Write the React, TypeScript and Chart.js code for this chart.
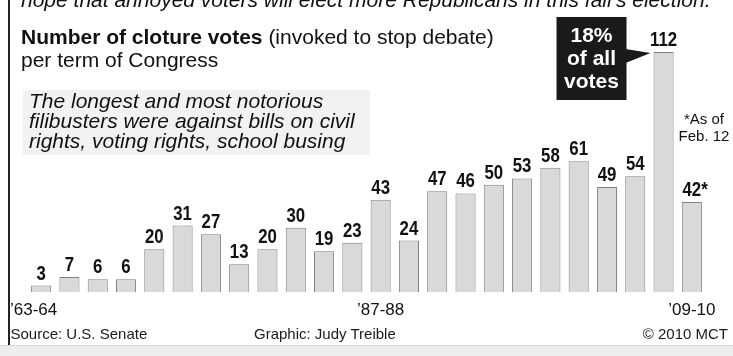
import React, { useEffect, useRef } from "react";
import { Chart, registerables } from "chart.js";

Chart.register(...registerables);

// ---- data ----
const categories = [
  "’63-64", "’65-66", "’67-68", "’69-70", "’71-72", "’73-74", "’75-76", "’77-78",
  "’79-80", "’81-82", "’83-84", "’85-86", "’87-88", "’89-90", "’91-92", "’93-94",
  "’95-96", "’97-98", "’99-00", "’01-02", "’03-04", "’05-06", "’07-08", "’09-10",
];
const clotureVotes = [3, 7, 6, 6, 20, 31, 27, 13, 20, 30, 19, 23, 43, 24, 47, 46, 50, 53, 58, 61, 49, 54, 112, 42];
const shownTicks = ["’63-64", "’87-88", "’09-10"];
const partialTerm = "’09-10";
const calloutTerm = "’07-08";
const calloutLines = ["18%", "of all", "votes"];

const headline = "hope that annoyed voters will elect more Republicans in this fall’s election.";
const titleBold = "Number of cloture votes";
const titleRest = " (invoked to stop debate)";
const subtitle = "per term of Congress";
const noteLines = ["The longest and most notorious", "filibusters were against bills on civil", "rights, voting rights, school busing"];
const asOfLines = ["*As of", "Feb. 12"];
const sourceText = "Source: U.S. Senate";
const creditText = "Graphic: Judy Treible";
const copyrightText = "© 2010 MCT";

const W = 733;
const H = 356;
const FRAME_X = 8;
const SANS = '"Liberation Sans", Arial, Helvetica, sans-serif';
const LABEL_SQUEEZE = 0.8;

const labelsPlugin = {
  id: "clotureLabels",
  afterDatasetsDraw(chart: any) {
    const ctx = chart.ctx as CanvasRenderingContext2D;
    const meta = chart.getDatasetMeta(0);
    const xScale = chart.scales.x;
    const area = chart.chartArea;
    ctx.save();
    ctx.textBaseline = "alphabetic";
    ctx.fillStyle = "#111";

    // value labels (condensed bold)
    ctx.save();
    ctx.scale(LABEL_SQUEEZE, 1);
    ctx.font = `bold 21px ${SANS}`;
    meta.data.forEach((bar: any, i: number) => {
      const txt = String(clotureVotes[i]);
      const sx = bar.x / LABEL_SQUEEZE;
      ctx.textAlign = "center";
      ctx.fillText(txt, sx, bar.y - 6);
      if (categories[i] === partialTerm) {
        const w = ctx.measureText(txt).width;
        ctx.textAlign = "left";
        ctx.fillText("*", sx + w / 2, bar.y - 6);
      }
    });
    ctx.restore();

    // category ticks
    ctx.font = `17px ${SANS}`;
    shownTicks.forEach((t, k) => {
      const i = categories.indexOf(t);
      const x = xScale.getPixelForValue(i);
      if (k === 0) {
        ctx.textAlign = "left";
        ctx.fillText(t, FRAME_X + 2, area.bottom + 23);
      } else {
        ctx.textAlign = "center";
        ctx.fillText(t, x, area.bottom + 23);
      }
    });

    // callout
    const ci = categories.indexOf(calloutTerm);
    const cb = meta.data[ci];
    const left = cb.x - cb.width / 2;
    const top = cb.y;
    const tipX = left - 3;
    const boxR = tipX - 24;
    const boxL = boxR - 70;
    const boxT = top - 35;
    const boxB = top + 48;
    ctx.fillStyle = "#1a1a1a";
    ctx.fillRect(boxL, boxT, boxR - boxL, boxB - boxT);
    ctx.beginPath();
    ctx.moveTo(boxR - 1, top - 3);
    ctx.lineTo(tipX, top + 1);
    ctx.lineTo(boxR - 1, top + 11);
    ctx.closePath();
    ctx.fill();
    ctx.fillStyle = "#fff";
    ctx.font = `bold 21px ${SANS}`;
    ctx.textAlign = "center";
    const cx = (boxL + boxR) / 2;
    calloutLines.forEach((ln, j) => ctx.fillText(ln, cx, top - 10 + j * 23));
    ctx.restore();
  },
};

export default function App() {
  const canvasRef = useRef<HTMLCanvasElement | null>(null);

  useEffect(() => {
    if (!canvasRef.current) return;
    const chart = new Chart(canvasRef.current, {
      type: "bar",
      data: {
        labels: categories,
        datasets: [
          {
            data: clotureVotes,
            backgroundColor: "#d9d9d9",
            borderColor: "#808080",
            borderWidth: 1,
            categoryPercentage: 1,
            barPercentage: 0.71,
          },
        ],
      },
      options: {
        responsive: false,
        animation: false,
        devicePixelRatio: 1,
        layout: { padding: { top: 52, bottom: 64, left: 27, right: 27 } },
        plugins: {
          legend: { display: false },
          tooltip: { enabled: false },
          title: { display: false },
        },
        scales: {
          x: { display: false },
          y: { display: false, min: 0, max: 112 },
        },
      },
      plugins: [labelsPlugin],
    } as any);
    return () => chart.destroy();
  }, []);

  const abs = (s: React.CSSProperties): React.CSSProperties => ({ position: "absolute", whiteSpace: "nowrap", color: "#111", ...s });

  return (
    <div style={{ position: "fixed", left: 0, top: 0, width: W, height: H, background: "#fff", overflow: "hidden", fontFamily: SANS }}>
      <canvas ref={canvasRef} width={W} height={H} style={{ position: "absolute", left: 0, top: 0 }} />
      <div style={abs({ left: 21, top: -11.8, font: `italic 21px/23px ${SANS}` })}>{headline}</div>
      <div style={abs({ left: 21, top: 25.2, font: `21px/23px ${SANS}` })}>
        <span style={{ fontWeight: "bold" }}>{titleBold}</span>
        {titleRest}
        <br />
        {subtitle}
      </div>
      <div style={abs({ left: 23, top: 90, width: 347, height: 65, background: "#f2f2f2" })}>
        <div style={{ paddingLeft: 6, paddingTop: 1.2, font: `italic 21px/20px ${SANS}` }}>
          {noteLines.map((l, i) => (
            <div key={i}>{l}</div>
          ))}
        </div>
      </div>
      <div style={abs({ left: 664, top: 109.6, width: 80, textAlign: "center", font: `15px/17px ${SANS}` })}>
        {asOfLines.map((l, i) => (
          <div key={i}>{l}</div>
        ))}
      </div>
      <div style={abs({ left: 10.5, top: 324.8, font: `15px/17px ${SANS}`, color: "#1a1a1a" })}>{sourceText}</div>
      <div style={abs({ left: 254, top: 324.8, font: `15px/17px ${SANS}`, color: "#1a1a1a" })}>{creditText}</div>
      <div style={abs({ right: 5, top: 324.8, font: `15px/17px ${SANS}`, color: "#1a1a1a" })}>{copyrightText}</div>
      <div style={{ position: "absolute", left: FRAME_X, top: 0, width: 2, height: 345, background: "#222" }} />
      <div style={{ position: "absolute", left: 0, top: 345, width: W, height: 11, background: "#ededed", borderTop: "1px solid #d6d6d6", boxSizing: "border-box" }} />
    </div>
  );
}
